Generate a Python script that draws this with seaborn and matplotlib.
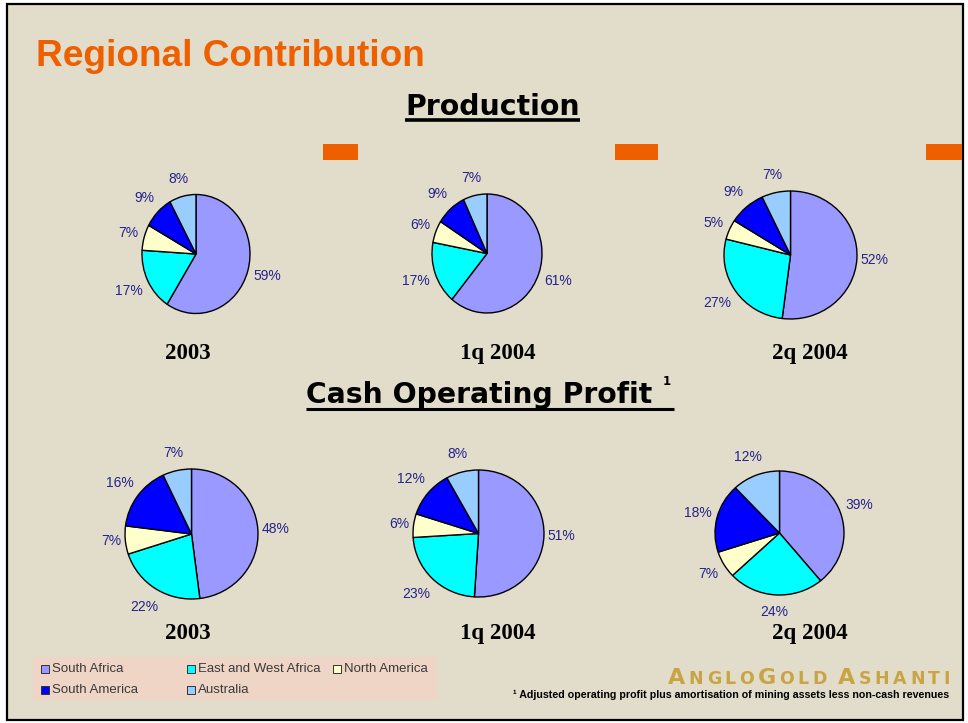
import numpy as np
import pandas as pd
import matplotlib
matplotlib.use("Agg")
import matplotlib.pyplot as plt
import seaborn as sns
from matplotlib.patches import Rectangle
from matplotlib.lines import Line2D

# ---------------- data ----------------
regions = ["South Africa", "East and West Africa", "North America",
           "South America", "Australia"]
region_colors = ["#9999FF", "#00FFFF", "#FFFFCC", "#0000FF", "#99CCFF"]
periods = ["2003", "1q 2004", "2q 2004"]
sections = ["Production", "Cash Operating Profit"]

production_2003 = [59, 17, 7, 9, 8]
production_1q2004 = [61, 17, 6, 9, 7]
production_2q2004 = [52, 27, 5, 9, 7]
cop_2003 = [48, 22, 7, 16, 7]
cop_1q2004 = [51, 23, 6, 12, 8]
cop_2q2004 = [39, 24, 7, 18, 12]

footnote = "\u00b9 Adjusted operating profit plus amortisation of mining assets less non-cash revenues"

rows = []
for sec, series in zip(sections, [[production_2003, production_1q2004, production_2q2004],
                                  [cop_2003, cop_1q2004, cop_2q2004]]):
    for per, vals in zip(periods, series):
        for reg, v in zip(regions, vals):
            rows.append(dict(section=sec, period=per, region=reg, share=v))
df = pd.DataFrame(rows)

# ---------------- style ----------------
sns.set_theme(style="white")
plt.rcParams["font.family"] = ["Liberation Sans", "DejaVu Sans"]
palette = sns.color_palette(region_colors)

W, H = 968, 723
BG = "#E2DDCA"
ORANGE = "#EE5F00"
LEG_BG = "#EFD5C5"
LABEL = "#24248C"

fig = plt.figure(figsize=(W / 100, H / 100), dpi=100, facecolor="white")
renderer = fig.canvas.get_renderer()


def fxy(x, y):
    return x / W, 1 - y / H


def ptext(x, y, s, **kw):
    return fig.text(*fxy(x, y), s, **kw)


def width_of(t):
    return t.get_window_extent(renderer=renderer).width


def fit(t, target):
    fs = t.get_fontsize()
    t.set_fontsize(fs * target / width_of(t))
    return t


def prect(x0, y0, x1, y1, **kw):
    fx0, fy1 = fxy(x0, y1)
    r = Rectangle((fx0, fy1), (x1 - x0) / W, (y1 - y0) / H,
                  transform=fig.transFigure, **kw)
    fig.add_artist(r)
    return r


# slide background with black frame
prect(7, 4, 963, 720, facecolor=BG, edgecolor="black", linewidth=1.6, zorder=-10)

# orange accent bars
for x0, x1 in [(323, 358), (615, 658), (926, 962)]:
    prect(x0, 144, x1, 160, facecolor=ORANGE, edgecolor="none", zorder=1)

# main title
fit(ptext(36, 66, "Regional Contribution", ha="left", va="baseline",
          fontsize=27, fontweight="bold", color=ORANGE), 389)

# section titles with underline
t_prod = fit(ptext(405, 115, "Production", ha="left", va="baseline",
                   fontsize=20, fontweight="bold", color="black",
                   family="DejaVu Sans"), 175)
bb = t_prod.get_window_extent(renderer=renderer)
fig.add_artist(Line2D([bb.x0 / W, bb.x1 / W], [1 - 119.5 / H] * 2,
                      transform=fig.transFigure, color="black", linewidth=2.6,
                      solid_capstyle="butt"))

t_cop = fit(ptext(306, 403, "Cash Operating Profit", ha="left", va="baseline",
                  fontsize=20, fontweight="bold", color="black",
                  family="DejaVu Sans"), 346)
sup = ptext(663, 385, "1", ha="left", va="baseline", fontsize=8.5,
            fontweight="bold", color="black", family="DejaVu Sans")
bb = t_cop.get_window_extent(renderer=renderer)
bs = sup.get_window_extent(renderer=renderer)
fig.add_artist(Line2D([bb.x0 / W, (bs.x1 + 3) / W], [1 - 408.5 / H] * 2,
                      transform=fig.transFigure, color="black", linewidth=2.2,
                      solid_capstyle="butt"))

# pie geometry in pixels: centre x, centre y, radius x, radius y
pie_geom = {
    ("Production", "2003"): (196, 254, 54, 59.5),
    ("Production", "1q 2004"): (487, 253.5, 55, 59.5),
    ("Production", "2q 2004"): (790.5, 255, 66.5, 64),
    ("Cash Operating Profit", "2003"): (191.5, 534, 66.5, 65),
    ("Cash Operating Profit", "1q 2004"): (478.5, 533.5, 65.5, 63.5),
    ("Cash Operating Profit", "2q 2004"): (779.5, 533, 64.5, 62),
}
year_label_pos = {"2003": 188, "1q 2004": 497.5, "2q 2004": 810}
year_baseline = {"Production": 359, "Cash Operating Profit": 639}

for (sec, per), (cx, cy, rx, ry) in pie_geom.items():
    sub = df[(df.section == sec) & (df.period == per)].set_index("region").loc[regions]
    ax = fig.add_axes([(cx - rx) / W, 1 - (cy + ry) / H, 2 * rx / W, 2 * ry / H])
    wedges, _ = ax.pie(sub["share"].values, colors=palette, startangle=90,
                       counterclock=False,
                       wedgeprops=dict(edgecolor="black", linewidth=1.0,
                                       clip_on=False))
    ax.set_xlim(-1, 1)
    ax.set_ylim(-1, 1)
    ax.set_aspect("auto")
    ax.axis("off")
    for w, v in zip(wedges, sub["share"].values):
        th = np.deg2rad((w.theta1 + w.theta2) / 2)
        c, s = np.cos(th), np.sin(th)
        t = ptext(0, 0, f"{v}%", ha="center", va="center", fontsize=10,
                  color=LABEL)
        e = t.get_window_extent(renderer=renderer)
        hw, hh = e.width / 2, e.height / 2
        d = 3 + 6 * abs(s) + hw * abs(c) + hh * abs(s)
        px = cx + (rx + d) * c
        py = cy - (ry + d) * s
        t.set_position(fxy(px, py))
    ptext(year_label_pos[per], year_baseline[sec], per, ha="center",
          va="baseline", fontsize=16.5, fontweight="bold", color="black",
          family="Liberation Serif")

# legend (manual, row-major like the original)
prect(33, 657, 437, 700, facecolor=LEG_BG, edgecolor="none", zorder=1)
leg_pos = [(41, 669), (187, 669), (333, 669), (41, 690), (187, 690)]
for reg, col, (lx, ly) in zip(regions, palette, leg_pos):
    prect(lx, ly - 4, lx + 8, ly + 4, facecolor=col, edgecolor="#333333",
          linewidth=0.7, zorder=2)
    ptext(lx + 11, ly, reg, ha="left", va="center", fontsize=9.5,
          color="#3A3A3A", zorder=3)

# logo text (simulated small caps with letter spacing)
logo_words = [("A", "NGLO"), ("G", "OLD"), (None, " "), ("A", "SHANTI")]
BIG, SMALL = 16, 12.5


def draw_logo(x0, y0, track):
    objs = []
    x = x0
    for big, small in logo_words:
        seq = ([(big, BIG)] if big else []) + [(ch, SMALL) for ch in small]
        for ch, size in seq:
            t = ptext(x, y0, ch, ha="left", va="baseline", fontsize=size,
                      color="#C9A445", family="DejaVu Sans", fontweight="bold")
            objs.append(t)
            x += (width_of(t) if ch != " " else size * 0.35) + track
    return objs, x - track - x0


objs, total = draw_logo(668, 683.5, 0)
n_gaps = sum((1 if b else 0) + len(s) for b, s in logo_words) - 1
for o in objs:
    o.remove()
draw_logo(668, 683.5, max(0.0, (282 - total) / n_gaps))

# footnote
fit(ptext(513, 698.5, footnote, ha="left", va="baseline", fontsize=7,
          fontweight="bold", color="black"), 435)

fig.savefig("out.png", dpi=100, facecolor="white")
